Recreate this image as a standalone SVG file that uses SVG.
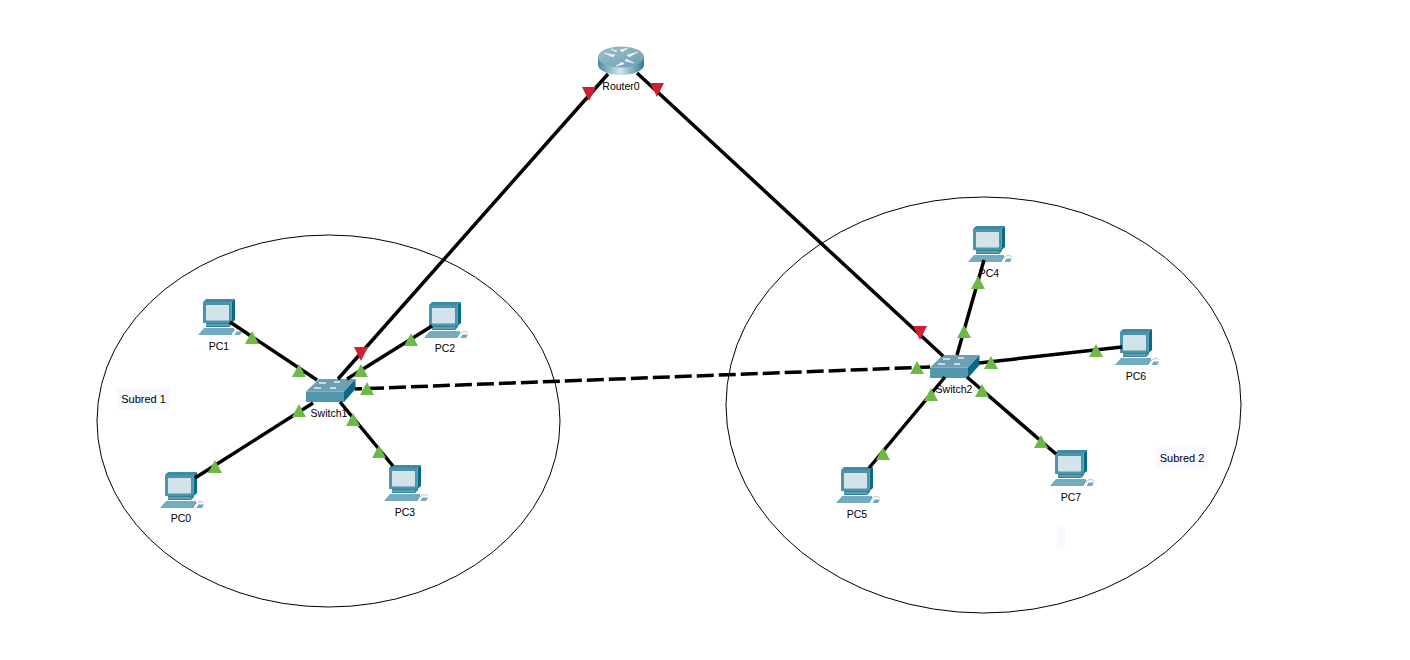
<svg xmlns="http://www.w3.org/2000/svg" width="1410" height="660" viewBox="0 0 1410 660">
<style>
text{font-family:"Liberation Sans",Arial,sans-serif;font-size:10.5px;fill:#000;text-anchor:middle}
.area{fill:none;stroke:#000;stroke-width:1}
.note{fill:#f8f8ff}
.link{fill:none;stroke:#000;stroke-width:3.5}
.dash{stroke-dasharray:17 5;stroke-dashoffset:10}
.up{fill:#6cb945}
.down{fill:#cf2030}
</style>
<defs>
<linearGradient id="rg" x1="0" x2="1" y1="0" y2="0">
<stop offset="0" stop-color="#4a8aa0"/><stop offset=".48" stop-color="#d4e6eb"/><stop offset="1" stop-color="#2f7c95"/>
</linearGradient>
<linearGradient id="rt" x1="0" x2="1" y1="0" y2="1">
<stop offset="0" stop-color="#9dbfcc"/><stop offset="1" stop-color="#6c9fb3"/>
</linearGradient>
<symbol id="pc" viewBox="0 0 46 38" width="46" height="38" overflow="visible">
<path d="M36 32c2-3 6-3 8-1" fill="none" stroke="#a9c6d1" stroke-width="1"/>
<polygon points="36.500,36 38.500,32.500 44,32.500 42,36" fill="#6fa9bd"/>
<polygon points="5,3 8,0 37,0 33.500,3" fill="#3d8ca6"/>
<polygon points="33.500,3 37,0 37,21 33.500,24" fill="#076b87"/>
<rect x="5" y="3" width="28.500" height="21" fill="#4f93ab"/>
<rect x="8" y="6" width="23" height="15.500" rx="1" fill="#d3e3ea"/>
<polygon points="8,24 31,24 34,22 34,25 31,28 8,28" fill="#2f829d"/>
<rect x="8" y="25.500" width="23" height="1" fill="#8fbccb"/>
<polygon points="0,36 6,29 36,29 32,36" fill="#73abbf"/>
<polygon points="32,36 36,29 36,31 33,36" fill="#2f829d"/>
</symbol>
<symbol id="sw" viewBox="0 0 50 23" width="50" height="23" overflow="visible">
<polygon points="0,12.500 13,0 49.500,0 38,12.500" fill="#6f9fb2"/>
<rect y="12.500" width="38" height="10.500" fill="#5096ad"/>
<polygon points="38,12.500 49.500,0 49.500,10 38,23" fill="#076b87"/>
<path d="M13 4h7M28 3h6M8 9h7M24 9h6" stroke="#e4eef2" stroke-width="1.300"/>
</symbol>
</defs>

<g id="areas">
<ellipse class="area" cx="328.500" cy="421" rx="231.500" ry="186"/>
<ellipse class="area" cx="983.500" cy="405" rx="257.500" ry="208"/>
</g>

<g id="note-subred1"><rect class="note" x="117" y="388" width="53" height="22"/><text x="143.500" y="403" style="font-size:11px">Subred 1</text></g>
<g id="note-subred2"><rect class="note" x="1156" y="447" width="52" height="22"/><text x="1182" y="462" style="font-size:11px">Subred 2</text></g>
<rect id="note-empty" class="note" x="1057" y="527" width="8" height="22"/>

<g id="Router0">
<path d="M598 57v8a23 10 0 0 0 46 0v-8z" fill="url(#rg)"/>
<ellipse cx="621" cy="57" rx="23" ry="10.500" fill="url(#rt)"/>
<path d="M604 53l11 2-2 2zM638 52l-11 3 2 2zM616 66l6-4 2 2zM628 48l-6 4-2-2zM611 49l5 3 1-1zM634 63l-8-4-1 2z" fill="#eef5f7" stroke="#eef5f7" stroke-width=".6"/>
<text x="621" y="90">Router0</text>
</g>
<g id="Switch1"><use href="#sw" x="306" y="379"/><text x="329" y="417">Switch1</text></g>
<g id="Switch2"><use href="#sw" x="930" y="355"/><text x="954" y="393">Switch2</text></g>
<g id="PC0"><use href="#pc" x="160" y="472"/><text x="181" y="522">PC0</text></g>
<g id="PC1"><use href="#pc" x="198" y="299"/><text x="219" y="350">PC1</text></g>
<g id="PC2"><use href="#pc" x="424" y="302"/><text x="445" y="352">PC2</text></g>
<g id="PC3"><use href="#pc" x="384" y="465"/><text x="405" y="516">PC3</text></g>
<g id="PC4"><use href="#pc" x="968" y="226"/><text x="989" y="277">PC4</text></g>
<g id="PC5"><use href="#pc" x="836" y="467"/><text x="857" y="518">PC5</text></g>
<g id="PC6"><use href="#pc" x="1115" y="329"/><text x="1136" y="380">PC6</text></g>
<g id="PC7"><use href="#pc" x="1050" y="450"/><text x="1071" y="501">PC7</text></g>

<g id="connectors">
<line class="link" x1="608" y1="74" x2="338" y2="379"/>
<line class="link" x1="637" y1="73" x2="943" y2="356"/>
<line class="link dash" x1="355" y1="389" x2="930" y2="367"/>
<line class="link" x1="230" y1="322" x2="317" y2="380"/>
<line class="link" x1="432" y1="326" x2="347" y2="379"/>
<line class="link" x1="195" y1="478" x2="313" y2="403"/>
<line class="link" x1="393" y1="466" x2="340" y2="402"/>
<line class="link" x1="984" y1="260" x2="957" y2="355"/>
<line class="link" x1="1122" y1="347" x2="979" y2="363"/>
<line class="link" x1="869" y1="468" x2="945" y2="377"/>
<line class="link" x1="1056" y1="454" x2="967" y2="377"/>
<g id="link-lights">
<path class="up" d="M252 331l7 13h-14zM299 364l7 13h-14zM361 364l7 13h-14zM411 333l7 13h-14zM367 382l7 13h-14zM299 404l7 13h-14zM353 413l7 13h-14zM215 460l7 13h-14zM379 445l7 13h-14z"/>
<path class="up" d="M978 276l7 13h-14zM964 325l7 13h-14zM991 356l7 13h-14zM1096 344l7 13h-14zM917 361l7 13h-14zM931 388l7 13h-14zM982 384l7 13h-14zM883 447l7 13h-14zM1041 435l7 13h-14z"/>
<path class="down" d="M361 361l-7-14h14zM589 101l-7-14h14zM657 97l-7-14h14zM920 340l-7-14h14z"/>
</g>
</g>
</svg>
